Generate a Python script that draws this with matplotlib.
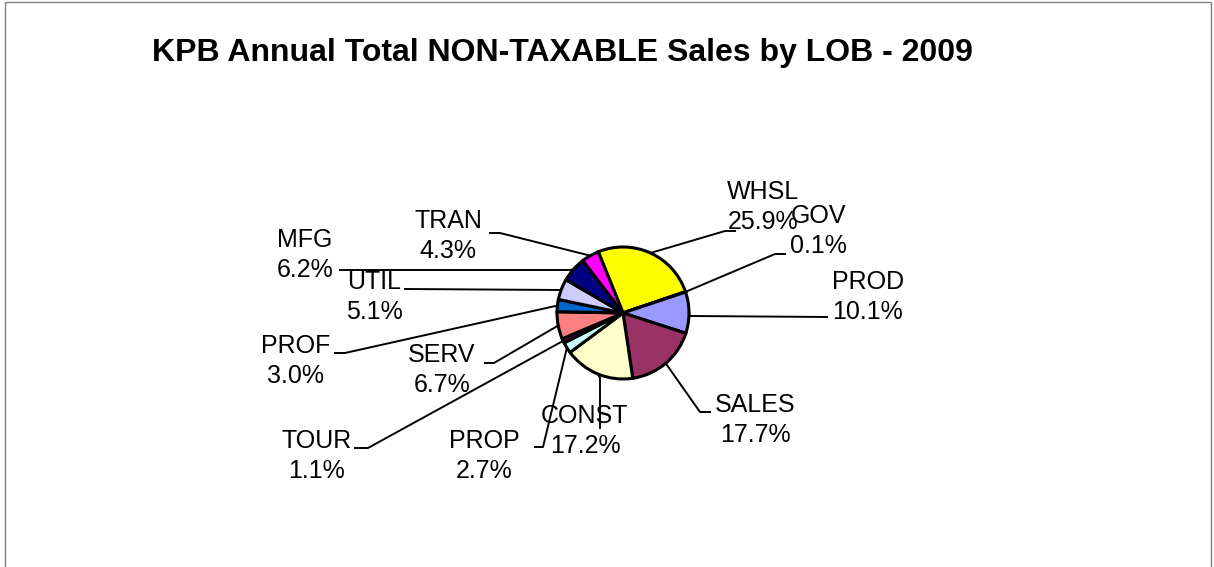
import numpy as np
import matplotlib
matplotlib.use('Agg')
import matplotlib.pyplot as plt
from matplotlib.patches import Rectangle

plt.rcParams['font.family'] = ['Liberation Sans', 'DejaVu Sans']

# data (clockwise from WHSL)
lob = ['WHSL', 'GOV', 'PROD', 'SALES', 'CONST', 'PROP', 'TOUR', 'SERV', 'PROF', 'UTIL', 'MFG', 'TRAN']
share = [25.9, 0.1, 10.1, 17.7, 17.2, 2.7, 1.1, 6.7, 3.0, 5.1, 6.2, 4.3]
colors = ['#FFFF00', '#008080', '#9999FF', '#993366', '#FFFFCC', '#CCFFFF',
          '#660066', '#FF8080', '#0066CC', '#CCCCFF', '#000080', '#FF00FF']

# label layout in pixel coords (x, y from top): text centre, elbow point, end point
lab_xy = [(763, 207), (818, 231), (868, 297), (755, 420), (585, 431), (484, 456),
          (317, 456), (442, 370), (296, 361), (374, 297), (305, 255), (448, 236)]
elbow = [(725, 231), (775, 254), (690, 316), (700, 412), (600, 378), (543, 447),
         (368, 448), (494, 363), (345, 353), (560, 290), (570, 270), (500, 233)]
lend = [(735, 231), (785, 254), (827, 317), (710, 412), (600, 428), (535, 447),
        (355, 448), (485, 363), (335, 353), (405, 289), (340, 270), (490, 233)]

W, H = 1214, 567
fig = plt.figure(figsize=(W / 100, H / 100), dpi=100)
ax = fig.add_axes([0, 0, 1, 1])

fig.patches.append(Rectangle((5 / W, -0.1), (1211 - 5) / W, 1.1 - 1.5 / H,
                             transform=fig.transFigure, fill=False,
                             edgecolor='#808080', linewidth=1))

cx, cy, r = 623, H - 313, 66
wedges, _ = ax.pie(share, colors=colors, startangle=112, counterclock=False,
                   center=(cx, cy), radius=r, frame=True,
                   wedgeprops=dict(edgecolor='black', linewidth=2.2))
ax.set_xlim(0, W)
ax.set_ylim(0, H)
ax.set_aspect('equal')
ax.axis('off')

for w, name, val, (tx, ty), (ex, ey), (fx, fy) in zip(wedges, lob, share, lab_xy, elbow, lend):
    a = np.deg2rad((w.theta1 + w.theta2) / 2)
    sx, sy = cx + r * np.cos(a), cy + r * np.sin(a)
    ax.plot([sx, ex, fx], [sy, H - ey, H - fy], color='black', lw=1.4, zorder=1)
    ax.text(tx, H - ty, f'{name}\n{val:.1f}%', ha='center', va='center',
            fontsize=18, linespacing=1.35, zorder=3)

ax.text(562, H - 53, 'KPB Annual Total NON-TAXABLE Sales by LOB - 2009',
        ha='center', va='center', fontsize=23, fontweight='bold')

fig.savefig('out.png', dpi=100)
